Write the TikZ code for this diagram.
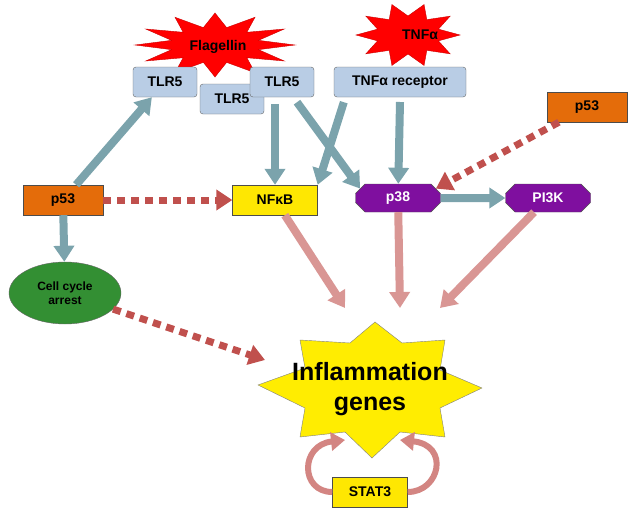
\documentclass[tikz,border=0pt]{standalone}
\usepackage{fontspec}
\setmainfont{Liberation Sans}
\usetikzlibrary{arrows.meta,shapes.geometric,shapes.misc}
\definecolor{teal1}{HTML}{4F8491}
\definecolor{red1}{HTML}{C0504D}
\definecolor{orange1}{HTML}{E46C0A}
\definecolor{purple1}{HTML}{7F0F9F}
\definecolor{blue1}{HTML}{B9CDE5}
\begin{document}
\begin{tikzpicture}[x=1pt,y=-1pt,font=\bfseries\fontsize{14}{16}\selectfont,
				receptor/.style={rectangle,rounded corners=3pt,draw=black!60,fill=blue1,minimum height=30pt},
				kinase/.style={chamfered rectangle,chamfered rectangle xsep=6pt,draw=black!70,fill=purple1,text=white,minimum width=85pt,minimum height=28pt},
				factor/.style={rectangle,draw=black!70,minimum width=85pt,minimum height=30pt},
				signal/.style={-{Triangle[length=16pt,width=20pt]},line width=8pt,color=teal1!75},
				induce/.style={-{Triangle[length=16pt,width=20pt]},line width=8pt,color=red1!60},
				regulate/.style={-{Triangle[length=16pt,width=20pt]},line width=7pt,dash pattern=on 8pt off 6pt,color=red1}]
	\useasboundingbox (0,0) rectangle (632,522);
	% ligands
	\fill[red,draw=red!80!black] plot[domain=0:23,samples=24]
		({215+(mod(\x,2)==0 ? 80 : 45)*cos(\x*15)},{45+(mod(\x,2)==0 ? 32 : 18)*sin(\x*15)}) -- cycle;
	\fill[red,draw=red!80!black] plot[domain=0:19,samples=20]
		({408+(mod(\x,2)==0 ? 52 : 32)*cos(\x*18)},{35+(mod(\x,2)==0 ? 32 : 19)*sin(\x*18)}) -- cycle;
	\node (flag) at (218,47) {Flagellin};
	\node (tnf) at (420,35) {TNFα};
	% receptors
	\node[receptor,minimum width=64pt] (TLRb) at (232,99) {TLR5};
	\node[receptor,minimum width=64pt] (TLRa) at (165,82) {TLR5};
	\node[receptor,minimum width=64pt] (TLRc) at (282,82) {TLR5};
	\node[receptor,minimum width=132pt] (TNFR) at (400,82) {TNFα receptor};
	% signalling
	\node[factor,fill=orange1,minimum width=80pt] (P53L) at (63,200) {p53};
	\node[factor,fill=orange1,minimum width=80pt] (P53R) at (587,107) {p53};
	\node[factor,fill=yellow!90!orange] (NFKB) at (275,200) {NFκB};
	\node[kinase] (P38) at (398,198) {p38};
	\node[kinase] (PI3K) at (548,198) {PI3K};
	\node[ellipse,draw=black!60,fill=green!45!black!80,align=center,minimum width=112pt,minimum height=62pt,font=\bfseries\fontsize{12}{14}\selectfont] (CCA) at (65,293) {Cell cycle\\arrest};
	% target
	\fill[yellow!95!orange,draw=black!50] (258,385) -- (305,368) -- (300,340) -- (350,343) -- (375,322) -- (402,343)
		-- (445,340) -- (440,370) -- (482,388) -- (440,408) -- (445,437) -- (400,432) -- (372,458)
		-- (345,432) -- (300,437) -- (305,408) -- cycle;
	\node[align=center,font=\bfseries\fontsize{25}{30}\selectfont] (GENES) at (370,389) {Inflammation\\genes};
	\node[factor,fill=yellow!90!orange,minimum width=75pt] (STAT3) at (370,492) {STAT3};
	\coordinate (G1) at (265,360);
	\coordinate (G2) at (345,308);
	\coordinate (G3) at (400,308);
	\coordinate (G4) at (440,308);
	\coordinate (G5) at (345,440);
	\coordinate (G6) at (400,440);
	% connectors
	\draw[signal] (P53L) -- (TLRa);
	\draw[signal] (P53L) -- (CCA);
	\draw[signal] (TLRb.north -| NFKB) ++(0,20) -- (NFKB);
	\draw[signal] (TLRc.south) ++(15,5) -- (P38.north west);
	\draw[signal] (TNFR.south west) ++(10,5) -- (NFKB.north east);
	\draw[signal] (TNFR) ++(0,20) -- (P38);
	\draw[signal] (P38) -- (PI3K);
	\draw[regulate] (P53L) -- (NFKB);
	\draw[regulate] (P53R) -- (P38.north east);
	\draw[regulate] (CCA) -- (G1);
	\draw[induce] (NFKB) -- (G2);
	\draw[induce] (P38) -- (G3);
	\draw[induce] (PI3K) -- (G4);
	\draw[-{Triangle[length=14pt,width=18pt]},line width=6pt,red1!70] (STAT3.west) .. controls (300,492) and (300,445) .. (G5);
	\draw[-{Triangle[length=14pt,width=18pt]},line width=6pt,red1!70] (STAT3.east) .. controls (440,492) and (450,445) .. (G6);
\end{tikzpicture}
\end{document}
